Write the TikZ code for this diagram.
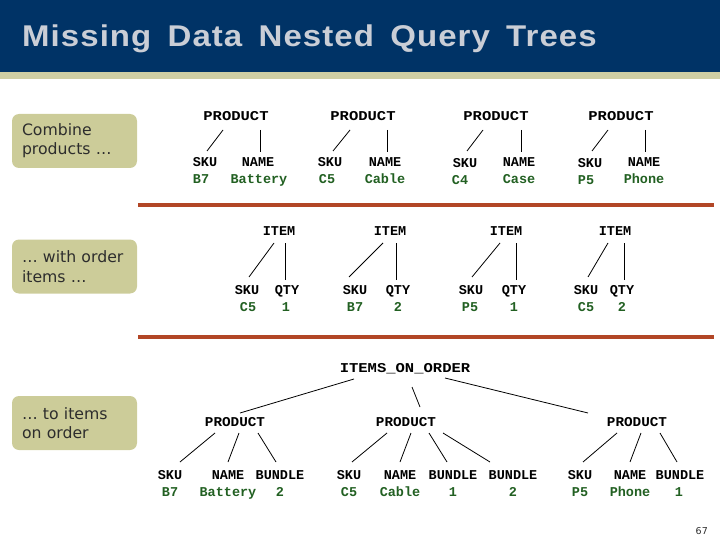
\documentclass[tikz,border=0pt]{standalone}
\usepackage{fontspec}
\newfontfamily\titlefont{Liberation Sans}[FakeStretch=1.1,LetterSpace=3.5,WordSpace=1.6]
\newfontfamily\boxfont{DejaVu Sans}
\newfontfamily\treefont{Liberation Mono}
\newfontfamily\treefontW{Liberation Mono}[FakeStretch=1.15]
\newfontfamily\treefontM{Liberation Mono}[FakeStretch=1.06]
\definecolor{bandblue}{RGB}{0,51,102}
\definecolor{stripe}{RGB}{206,206,164}
\definecolor{titlegrey}{RGB}{202,206,214}
\definecolor{callbg}{RGB}{204,204,153}
\definecolor{calltext}{RGB}{45,45,45}
\definecolor{rulecol}{RGB}{178,70,38}
\definecolor{valgreen}{RGB}{34,96,34}
\tikzset{
  lab/.style={font=\treefont\bfseries\fontsize{13.5}{14}\selectfont, inner sep=0pt, text height=8pt, text depth=0pt},
  labw/.style={lab, font=\treefontW\bfseries\fontsize{13.5}{14}\selectfont},
  labm/.style={lab, font=\treefontM\bfseries\fontsize{13.5}{14}\selectfont},
  val/.style={lab, text=valgreen},
  edge/.style={draw=black, line width=0.8pt},
  callout/.style={fill=callbg, rounded corners=7pt, minimum width=125pt, minimum height=54pt, inner xsep=10pt, text width=105pt, align=left, text=calltext, font=\boxfont\fontsize{15.7}{19.3}\selectfont},
  rulebar/.style={draw=rulecol, line width=4pt}
}
\begin{document}
\begin{tikzpicture}[x=1pt,y=-1pt]
\useasboundingbox (0,0) rectangle (720,540);
% header
\fill[bandblue] (0,0) rectangle (720,72.5);
\fill[stripe] (0,72.5) rectangle (720,79);
\node[anchor=base west, inner sep=0pt, text=titlegrey, font={\titlefont\bfseries\fontsize{30}{36}\selectfont}] (title) at (22,47) {Missing Data Nested Query Trees};

% callouts
\node[callout] (c1) at (74.5,141) {Combine\\products …};
\node[callout] (c2) at (74.5,266.5) {… with order\\items …};
\node[callout] (c3) at (74.5,423) {… to items\\on order};

% rules
\coordinate (r1a) at (138,205); \coordinate (r1b) at (714,205);
\coordinate (r2a) at (138,337); \coordinate (r2b) at (714,337);
\draw[rulebar] (r1a) -- (r1b);
\draw[rulebar] (r2a) -- (r2b);

% ===== Row 1: products =====
\node[labw] (p1) at (236,117) {PRODUCT};
\node[lab] (p1s) at (205,163) {SKU};   \node[val] (p1sv) at (201,180) {B7};
\node[lab] (p1n) at (258,163) {NAME};  \node[val] (p1nv) at (259,180) {Battery};
\draw[edge] ([shift={(-13,13)}]p1.center) -- ([shift={(2,-12)}]p1s.center);
\draw[edge] ([shift={(24,13)}]p1.center) -- ([shift={(2,-11)}]p1n.center);

\node[labw] (p2) at (363,117) {PRODUCT};
\node[lab] (p2s) at (330,163) {SKU};   \node[val] (p2sv) at (327,180) {C5};
\node[lab] (p2n) at (385,163) {NAME};  \node[val] (p2nv) at (385,180) {Cable};
\draw[edge] ([shift={(-13,13)}]p2.center) -- ([shift={(3,-12)}]p2s.center);
\draw[edge] ([shift={(24,13)}]p2.center) -- ([shift={(2,-11)}]p2n.center);

\node[labw] (p3) at (496,117) {PRODUCT};
\node[lab] (p3s) at (465,164) {SKU};   \node[val] (p3sv) at (460,181) {C4};
\node[lab] (p3n) at (519,163) {NAME};  \node[val] (p3nv) at (519,180) {Case};
\draw[edge] ([shift={(-13,13)}]p3.center) -- ([shift={(2,-13)}]p3s.center);
\draw[edge] ([shift={(25,13)}]p3.center) -- ([shift={(2,-11)}]p3n.center);

\node[labw] (p4) at (621,117) {PRODUCT};
\node[lab] (p4s) at (590,164) {SKU};   \node[val] (p4sv) at (586,181) {P5};
\node[lab] (p4n) at (644,163) {NAME};  \node[val] (p4nv) at (644,180) {Phone};
\draw[edge] ([shift={(-13,13)}]p4.center) -- ([shift={(2,-13)}]p4s.center);
\draw[edge] ([shift={(24,13)}]p4.center) -- ([shift={(1,-11)}]p4n.center);

% ===== Row 2: items =====
\node[lab] (i1) at (279,232) {ITEM};
\node[lab] (i1s) at (247,290) {SKU};  \node[val] (i1sv) at (248,307) {C5};
\node[lab] (i1q) at (287,290) {QTY};  \node[val] (i1qv) at (286,307) {1};
\draw[edge] ([shift={(-5,11)}]i1.center) -- ([shift={(2,-13)}]i1s.center);
\draw[edge] ([shift={(6,11)}]i1.center) -- ([shift={(-2,-10)}]i1q.center);

\node[lab] (i2) at (390,232) {ITEM};
\node[lab] (i2s) at (355,290) {SKU};  \node[val] (i2sv) at (355,307) {B7};
\node[lab] (i2q) at (398,290) {QTY};  \node[val] (i2qv) at (398,307) {2};
\draw[edge] ([shift={(-7,11)}]i2.center) -- ([shift={(-6,-13)}]i2s.center);
\draw[edge] ([shift={(6,11)}]i2.center) -- ([shift={(-2,-10)}]i2q.center);

\node[lab] (i3) at (506,232) {ITEM};
\node[lab] (i3s) at (471,290) {SKU};  \node[val] (i3sv) at (470,307) {P5};
\node[lab] (i3q) at (514,290) {QTY};  \node[val] (i3qv) at (514,307) {1};
\draw[edge] ([shift={(-6,11)}]i3.center) -- ([shift={(1,-13)}]i3s.center);
\draw[edge] ([shift={(10,11)}]i3.center) -- ([shift={(2,-10)}]i3q.center);

\node[lab] (i4) at (615,232) {ITEM};
\node[lab] (i4s) at (586,290) {SKU};  \node[val] (i4sv) at (586,307) {C5};
\node[lab] (i4q) at (622,290) {QTY};  \node[val] (i4qv) at (622,307) {2};
\draw[edge] ([shift={(-7,11)}]i4.center) -- ([shift={(2,-13)}]i4s.center);
\draw[edge] ([shift={(9,11)}]i4.center) -- ([shift={(2,-10)}]i4q.center);

% ===== Row 3: items on order =====
\node[labw] (root) at (405,368) {ITEMS\_ON\_ORDER};
\node[labm] (qa) at (235,422) {PRODUCT};
\node[labm] (qb) at (406,422) {PRODUCT};
\node[labm] (qc) at (637,422) {PRODUCT};
\draw[edge] ([shift={(-51,11)}]root.center) -- ([shift={(5,-9)}]qa.center);
\draw[edge] ([shift={(7,19)}]root.center) -- ([shift={(14,-15)}]qb.center);
\draw[edge] ([shift={(40,10)}]root.center) -- ([shift={(-49,-9)}]qc.center);

\node[lab] (qas) at (170,475) {SKU};    \node[val] (qasv) at (170,492) {B7};
\node[lab] (qan) at (228,475) {NAME};   \node[val] (qanv) at (228,492) {Battery};
\node[lab] (qab) at (280,475) {BUNDLE}; \node[val] (qabv) at (280,492) {2};
\draw[edge] ([shift={(-20,11)}]qa.center) -- ([shift={(10,-13)}]qas.center);
\draw[edge] ([shift={(4,11)}]qa.center) -- ([shift={(0,-13)}]qan.center);
\draw[edge] ([shift={(23,11)}]qa.center) -- ([shift={(-4,-13)}]qab.center);

\node[lab] (qbs) at (349,475) {SKU};     \node[val] (qbsv) at (349,492) {C5};
\node[lab] (qbn) at (400,475) {NAME};    \node[val] (qbnv) at (400,492) {Cable};
\node[lab] (qbb) at (453,475) {BUNDLE};  \node[val] (qbbv) at (453,492) {1};
\node[lab] (qbc) at (513,475) {BUNDLE};  \node[val] (qbcv) at (513,492) {2};
\draw[edge] ([shift={(-19,11)}]qb.center) -- ([shift={(3,-13)}]qbs.center);
\draw[edge] ([shift={(5,11)}]qb.center) -- ([shift={(0,-13)}]qbn.center);
\draw[edge] ([shift={(23,11)}]qb.center) -- ([shift={(-6,-13)}]qbb.center);
\draw[edge] ([shift={(37,11)}]qb.center) -- ([shift={(-23,-13)}]qbc.center);

\node[lab] (qcs) at (580,475) {SKU};     \node[val] (qcsv) at (580,492) {P5};
\node[lab] (qcn) at (630,475) {NAME};    \node[val] (qcnv) at (630,492) {Phone};
\node[lab] (qcb) at (680,475) {BUNDLE};  \node[val] (qcbv) at (679,492) {1};
\draw[edge] ([shift={(-20,11)}]qc.center) -- ([shift={(3,-13)}]qcs.center);
\draw[edge] ([shift={(4,11)}]qc.center) -- ([shift={(0,-13)}]qcn.center);
\draw[edge] ([shift={(23,11)}]qc.center) -- ([shift={(-3,-13)}]qcb.center);

% page number
\node[anchor=base east, inner sep=0pt, text=calltext, font={\boxfont\fontsize{9.5}{10}\selectfont}] (pg) at (708,534) {67};
\end{tikzpicture}
\end{document}
